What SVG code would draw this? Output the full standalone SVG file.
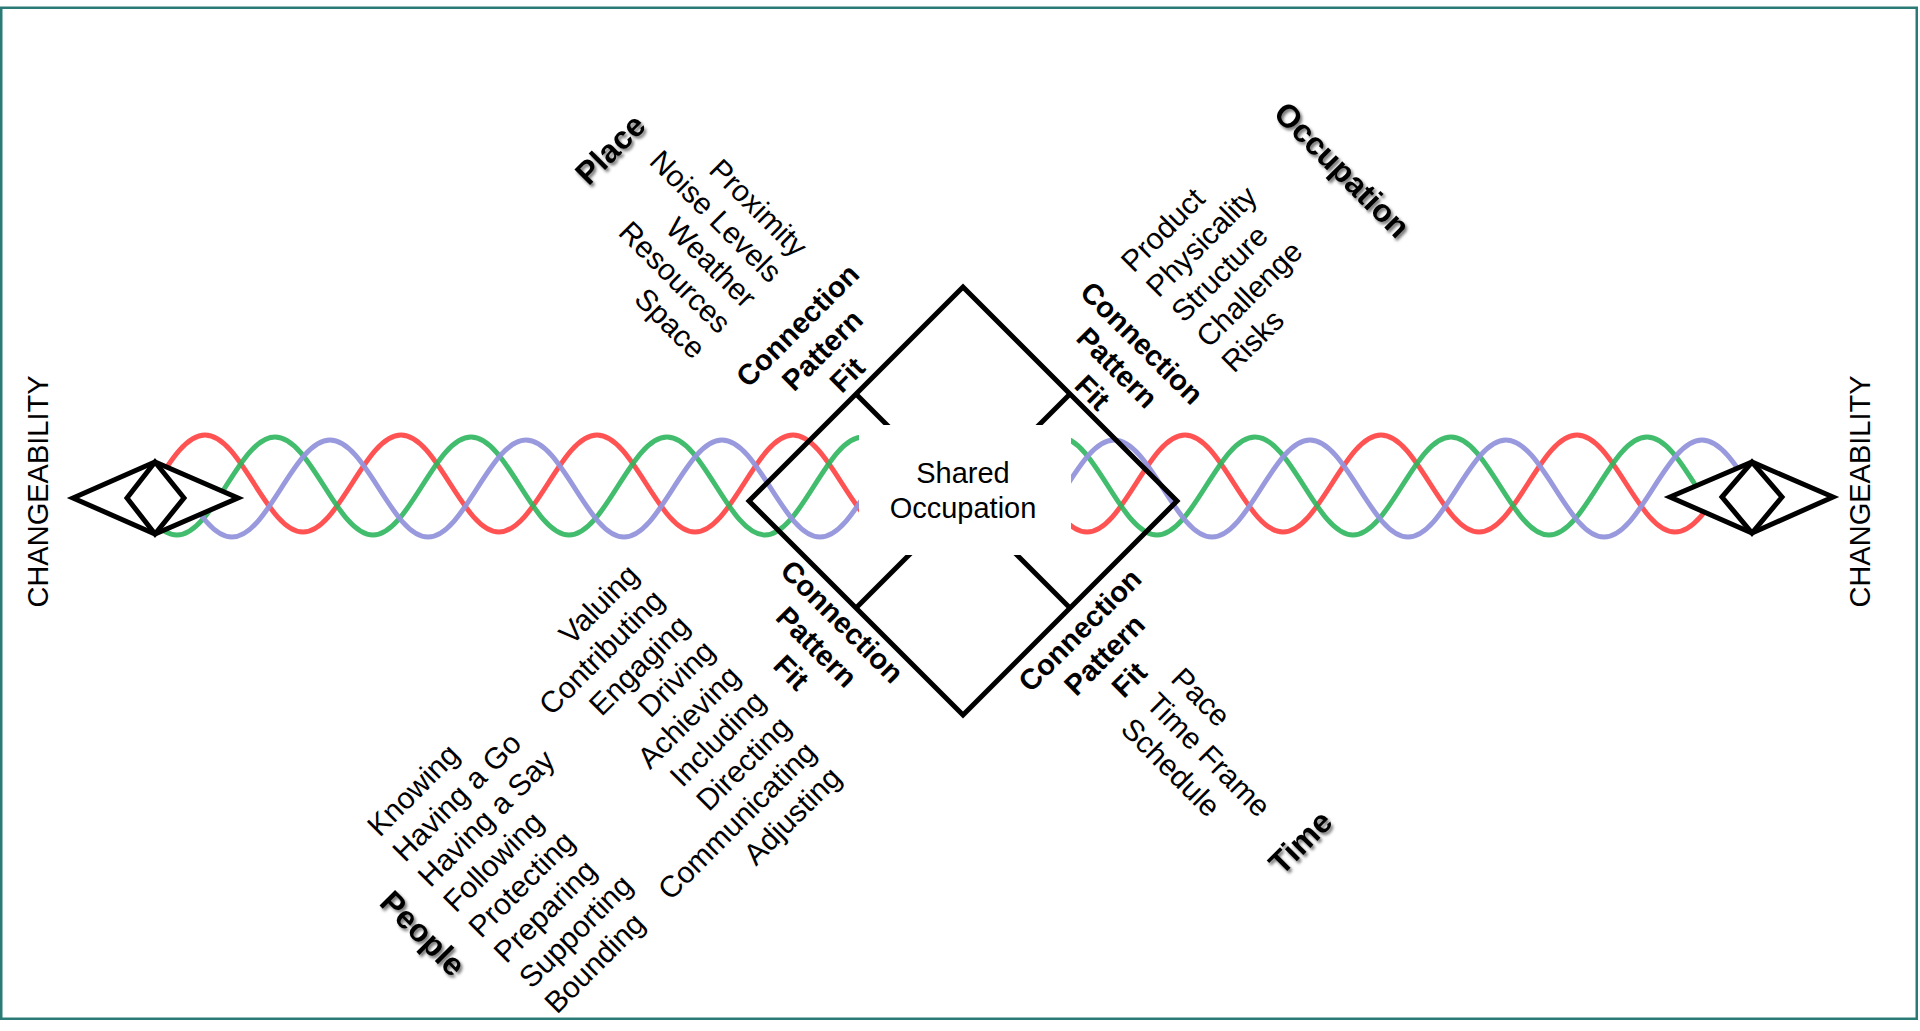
<svg xmlns="http://www.w3.org/2000/svg" width="1920" height="1031" viewBox="0 0 1920 1031">
<style>
.t{font-family:"Liberation Sans",Arial,sans-serif;font-size:30px;fill:#000}
.b{font-family:"Liberation Sans",Arial,sans-serif;font-weight:bold;font-size:29px;fill:#000}
.h{font-family:"Liberation Sans",Arial,sans-serif;font-weight:bold;font-size:32px;fill:#000}
.ln{fill:none;stroke:#000;stroke-width:5;stroke-linejoin:miter}
.eye{fill:#fff;stroke:#000;stroke-width:5;stroke-linejoin:miter}
.w{fill:none;stroke-width:5;stroke-linecap:round}
</style>
<defs>
<filter id="sh" x="-20%" y="-20%" width="140%" height="140%">
<feDropShadow dx="2" dy="2.5" stdDeviation="1.6" flood-color="#000" flood-opacity="0.55"/>
</filter>
<clipPath id="cr"><rect x="140" y="400" width="1585" height="180"/></clipPath>
<clipPath id="cg"><rect x="150" y="400" width="1565" height="180"/></clipPath>
<clipPath id="cb"><rect x="178" y="400" width="1582" height="180"/></clipPath>
</defs>
<rect x="0" y="0" width="1920" height="1031" fill="#fff"/>
<rect x="1.25" y="7.75" width="1915.5" height="1011" fill="none" stroke="#2a7a76" stroke-width="2.5"/>

<g id="connectors">
<path class="w" clip-path="url(#cr)" stroke="#ff4040" stroke-opacity="0.9" d="M107,532 c36,0 62,-97 98,-97 s62,97 98,97 s62,-97 98,-97 s62,97 98,97 s62,-97 98,-97 s62,97 98,97 s62,-97 98,-97 s62,97 98,97 s62,-97 98,-97 s62,97 98,97 s62,-97 98,-97 s62,97 98,97 s62,-97 98,-97 s62,97 98,97 s62,-97 98,-97 s62,97 98,97 s62,-97 98,-97"/>
<path class="w" clip-path="url(#cg)" stroke="#2db55d" stroke-opacity="0.9" d="M79,437 c36,0 62,98 98,98 s62,-98 98,-98 s62,98 98,98 s62,-98 98,-98 s62,98 98,98 s62,-98 98,-98 s62,98 98,98 s62,-98 98,-98 s62,98 98,98 s62,-98 98,-98 s62,98 98,98 s62,-98 98,-98 s62,98 98,98 s62,-98 98,-98 s62,98 98,98 s62,-98 98,-98 s62,98 98,98"/>
<path class="w" clip-path="url(#cb)" stroke="#9494dc" stroke-opacity="0.95" d="M134,440 c36,0 62,97 98,97 s62,-97 98,-97 s62,97 98,97 s62,-97 98,-97 s62,97 98,97 s62,-97 98,-97 s62,97 98,97 s62,-97 98,-97 s62,97 98,97 s62,-97 98,-97 s62,97 98,97 s62,-97 98,-97 s62,97 98,97 s62,-97 98,-97 s62,97 98,97 s62,-97 98,-97 s62,97 98,97"/>
</g>

<g id="shared-occupation">
<polygon class="ln" points="963,287 1177,501 963,715 749,501"/>
<line class="ln" x1="856" y1="394" x2="1070" y2="608"/>
<line class="ln" x1="1070" y1="394" x2="856" y2="608"/>
<rect x="859" y="425" width="212" height="130" fill="#fff"/>
<text class="t" style="font-size:29px" text-anchor="middle"><tspan x="963" y="483">Shared</tspan><tspan x="963" y="518">Occupation</tspan></text>
</g>

<g id="eye-left">
<polygon class="eye" points="73,498 155,462 238,498 155,534"/>
<polygon class="eye" points="127,498 155,462 184,498 155,534"/>
</g>
<g id="eye-right">
<polygon class="eye" points="1670,497 1752,462 1833,497 1752,533"/>
<polygon class="eye" points="1722,497 1752,462 1782,497 1752,533"/>
</g>

<g id="changeability-left"><text class="t" style="font-size:29px" text-anchor="middle" transform="translate(48,491.5) rotate(-90)">CHANGEABILITY</text></g>
<g id="changeability-right"><text class="t" style="font-size:29px" text-anchor="middle" transform="translate(1870,491.5) rotate(-90)">CHANGEABILITY</text></g>

<g id="place">
<g filter="url(#sh)"><text class="h" text-anchor="middle" transform="rotate(-45)" x="326" y="548">Place</text></g>
<text class="t" text-anchor="end" transform="rotate(45)"><tspan x="745" y="-379">Proximity</tspan><tspan x="745" dy="36">Noise Levels</tspan><tspan x="745" dy="36">Weather</tspan><tspan x="745" dy="36">Resources</tspan><tspan x="745" dy="36">Space</tspan></text>
<text class="b" text-anchor="middle" transform="rotate(-45)"><tspan x="334" y="804">Connection</tspan><tspan x="334" dy="35">Pattern</tspan><tspan x="334" dy="35">Fit</tspan></text>
</g>

<g id="occupation">
<g filter="url(#sh)"><text class="h" text-anchor="middle" transform="rotate(45)" x="1069" y="-818">Occupation</text></g>
<text class="t" text-anchor="start" transform="rotate(-45)"><tspan x="608" y="995">Product</tspan><tspan x="608" dy="35.5">Physicality</tspan><tspan x="608" dy="35.5">Structure</tspan><tspan x="608" dy="35.5">Challenge</tspan><tspan x="608" dy="35.5">Risks</tspan></text>
<text class="b" text-anchor="middle" transform="rotate(45)"><tspan x="1050" y="-555">Connection</tspan><tspan x="1050" dy="35">Pattern</tspan><tspan x="1050" dy="35">Fit</tspan></text>
</g>

<g id="people">
<g filter="url(#sh)"><text class="h" text-anchor="middle" transform="rotate(45)" x="959" y="372">People</text></g>
<text class="t" text-anchor="start" transform="rotate(-45)"><tspan x="-324" y="861">Knowing</tspan><tspan x="-324" dy="35.8">Having a Go</tspan><tspan x="-324" dy="35.8">Having a Say</tspan><tspan x="-324" dy="35.8">Following</tspan><tspan x="-324" dy="35.8">Protecting</tspan><tspan x="-324" dy="35.8">Preparing</tspan><tspan x="-324" dy="35.8">Supporting</tspan><tspan x="-324" dy="35.8">Bounding</tspan></text>
<text class="t" text-anchor="end" transform="rotate(-45)"><tspan x="45" y="861">Valuing</tspan><tspan x="45" dy="35.8">Contributing</tspan><tspan x="45" dy="35.8">Engaging</tspan><tspan x="45" dy="35.8">Driving</tspan><tspan x="45" dy="35.8">Achieving</tspan><tspan x="45" dy="35.8">Including</tspan><tspan x="45" dy="35.8">Directing</tspan><tspan x="45" dy="35.8">Communicating</tspan><tspan x="45" dy="35.8">Adjusting</tspan></text>
<text class="b" text-anchor="middle" transform="rotate(45)"><tspan x="1035" y="-146">Connection</tspan><tspan x="1035" dy="36">Pattern</tspan><tspan x="1035" dy="36">Fit</tspan></text>
</g>

<g id="time">
<g filter="url(#sh)"><text class="h" text-anchor="middle" transform="rotate(-45)" x="324" y="1526">Time</text></g>
<text class="t" text-anchor="start" transform="rotate(45)"><tspan x="1308" y="-346">Pace</tspan><tspan x="1308" dy="35.5">Time Frame</tspan><tspan x="1308" dy="35.5">Schedule</tspan></text>
<text class="b" text-anchor="middle" transform="rotate(-45)"><tspan x="318" y="1219">Connection</tspan><tspan x="318" dy="35">Pattern</tspan><tspan x="318" dy="35">Fit</tspan></text>
</g>
</svg>
